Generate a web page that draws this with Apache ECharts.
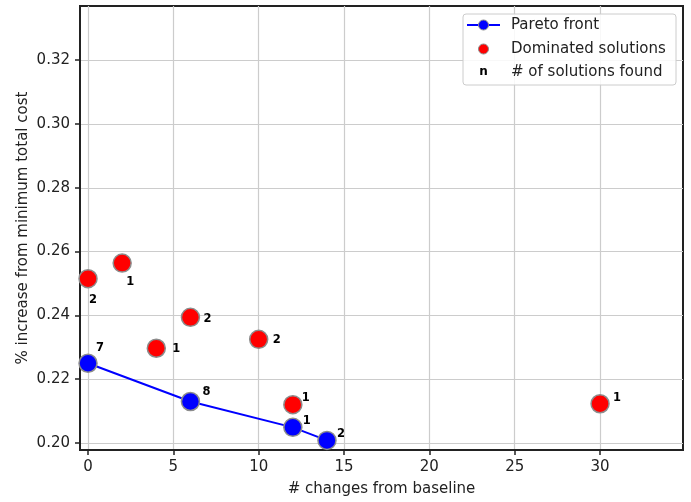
<!DOCTYPE html>
<html>
<head>
<meta charset="utf-8">
<script src="https://cdn.jsdelivr.net/npm/echarts@6/dist/echarts.min.js"></script>
<style>html,body{margin:0;padding:0;background:#fff}#c{width:691px;height:502px}</style>
</head>
<body>
<div id="c"></div>
<script>
// ---- data ----
const paretoX = [0, 6, 12, 14];
const paretoY = [0.2250, 0.2130, 0.2049, 0.2008];
const paretoN = [7, 8, 1, 2];

const domX = [0, 2, 4, 6, 10, 12, 30];
const domY = [0.2515, 0.2564, 0.2297, 0.2394, 0.2325, 0.2120, 0.2123];
const domN = [2, 1, 1, 2, 2, 1, 1];

const xTicks = [0, 5, 10, 15, 20, 25, 30];
const yTicks = [0.20, 0.22, 0.24, 0.26, 0.28, 0.30, 0.32];

const xTitle = '# changes from baseline';
const yTitle = '% increase from minimum total cost';
const legendNames = ['Pareto front', 'Dominated solutions', '# of solutions found'];

// ---- styles (label offsets in px, kept apart from data) ----
const paretoLabelOffset = [[12, -15], [16, -10], [14, -6], [14, -6]];
const domLabelOffset = [[5, 21], [8, 19], [20, 1], [17, 2], [18, 1], [13, -7], [17, -6]];

const FONT = 'DejaVu Sans';
const edge = '#8c8c8c';

function mkData(xs, ys, ns, offs) {
  return xs.map((x, i) => ({
    value: [x, ys[i], ns[i]],
    label: { offset: offs[i] }
  }));
}

const labelStyle = {
  show: true,
  position: 'inside',
  formatter: p => String(p.value[2]),
  fontFamily: FONT,
  fontSize: 11.5,
  fontWeight: 'bold',
  color: '#000'
};

const chart = echarts.init(document.getElementById('c'), null, { renderer: 'canvas' });

const axisCommon = {
  axisLine: { show: true, onZero: false, lineStyle: { color: '#222', width: 2 } },
  axisTick: { show: true, inside: false, length: 5, lineStyle: { color: '#222', width: 1.5 } },
  splitLine: { show: true, lineStyle: { color: '#cccccc', width: 1.2 } },
  nameTextStyle: { fontFamily: FONT, fontSize: 15, color: '#222' },
  nameMoveOverlap: false
};

const lx = 463, ly = 14, lw = 213, lh = 71;

chart.setOption({
  animation: false,
  backgroundColor: '#fff',
  grid: { left: 80, right: 8, top: 6, bottom: 51, show: true, borderColor: '#222', borderWidth: 2, backgroundColor: 'transparent' },
  xAxis: Object.assign({}, axisCommon, {
    type: 'value', min: -0.47, max: 34.86,
    name: xTitle, nameLocation: 'middle', nameGap: 32,
    axisTick: Object.assign({}, axisCommon.axisTick, { customValues: xTicks }),
    axisLabel: { customValues: xTicks, fontFamily: FONT, fontSize: 15, color: '#222', margin: 10, formatter: v => String(v) }
  }),
  yAxis: Object.assign({}, axisCommon, {
    type: 'value', min: 0.1978, max: 0.337,
    name: yTitle, nameLocation: 'middle', nameGap: 49, nameRotate: 90,
    axisTick: Object.assign({}, axisCommon.axisTick, { customValues: yTicks }),
    axisLabel: { customValues: yTicks, fontFamily: FONT, fontSize: 15, color: '#222', margin: 10, formatter: v => v.toFixed(2) }
  }),
  series: [
    {
      name: legendNames[1], type: 'scatter', symbol: 'circle', symbolSize: 18,
      itemStyle: { color: '#ff0000', borderColor: edge, borderWidth: 1.5, opacity: 1 },
      label: labelStyle,
      data: mkData(domX, domY, domN, domLabelOffset),
      z: 3
    },
    {
      name: legendNames[0], type: 'line', symbol: 'circle', symbolSize: 18, showAllSymbol: true,
      itemStyle: { color: '#0000ff', borderColor: edge, borderWidth: 1.5 },
      lineStyle: { color: '#0000ff', width: 2 },
      label: labelStyle,
      data: mkData(paretoX, paretoY, paretoN, paretoLabelOffset),
      z: 4
    }
  ],
  graphic: [
    { type: 'rect', shape: { x: lx, y: ly, width: lw, height: lh, r: 3 }, style: { fill: 'rgba(255,255,255,0.85)', stroke: '#cccccc', lineWidth: 1 }, z: 100 },
    { type: 'line', shape: { x1: lx + 4, y1: ly + 11, x2: lx + 37, y2: ly + 11 }, style: { stroke: '#0000ff', lineWidth: 2 }, z: 101 },
    { type: 'circle', shape: { cx: lx + 20.5, cy: ly + 11, r: 5 }, style: { fill: '#0000ff', stroke: edge, lineWidth: 1 }, z: 102 },
    { type: 'text', style: { x: lx + 48, y: ly + 11, text: legendNames[0], font: '15px "DejaVu Sans"', fill: '#222', verticalAlign: 'middle' }, z: 102 },
    { type: 'circle', shape: { cx: lx + 20.5, cy: ly + 35, r: 5 }, style: { fill: '#ff0000', stroke: edge, lineWidth: 1 }, z: 102 },
    { type: 'text', style: { x: lx + 48, y: ly + 35, text: legendNames[1], font: '15px "DejaVu Sans"', fill: '#222', verticalAlign: 'middle' }, z: 102 },
    { type: 'text', style: { x: lx + 20.5, y: ly + 58, text: 'n', font: 'bold 12px "DejaVu Sans"', fill: '#000', align: 'center', verticalAlign: 'middle' }, z: 102 },
    { type: 'text', style: { x: lx + 48, y: ly + 58, text: legendNames[2], font: '15px "DejaVu Sans"', fill: '#222', verticalAlign: 'middle' }, z: 102 }
  ]
});
</script>
</body>
</html>
